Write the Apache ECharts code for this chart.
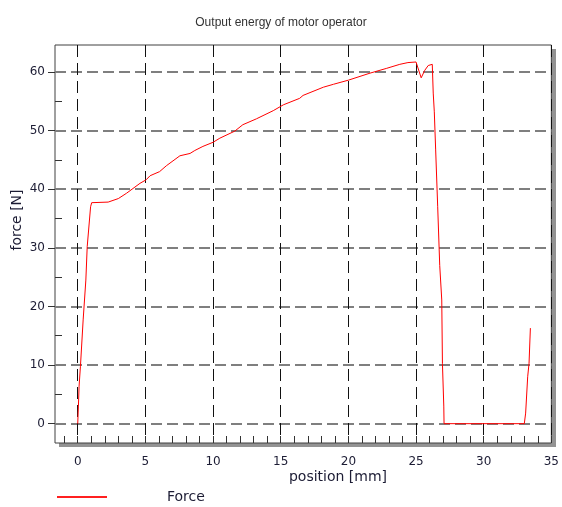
<!DOCTYPE html>
<html>
<head>
<meta charset="utf-8">
<script src="https://cdn.jsdelivr.net/npm/echarts@6/dist/echarts.min.js"></script>
<style>
  html, body { margin: 0; padding: 0; background: #fff; }
  #chart { width: 562px; height: 507px; }
</style>
</head>
<body>
<div id="chart"></div>
<script>
// force vs. position
var positionMm = [0, 0.05, 0.1, 0.2, 0.4, 0.6, 0.7, 0.95, 1.03, 2.25, 3.0, 3.6, 4.6, 5.05, 5.35,
  6.05, 6.55, 7.55, 8.3, 8.65, 9.25, 10.0, 10.5, 11.6, 12.2, 13.2, 14.45, 15.2, 16.4, 16.65,
  18.15, 18.9, 20.0, 21.6, 22.8, 23.8, 24.4, 25.0, 25.38, 25.65, 25.9, 26.2, 26.27, 26.35,
  26.45, 26.6, 26.75, 26.9, 26.95, 27.05, 27.07, 33.0, 33.1, 33.25, 33.35, 33.45];
var forceN = [0, 3.0, 6.4, 9.8, 17.7, 24.5, 30.2, 37.0, 37.7, 37.8, 38.4, 39.3, 41.0, 41.6, 42.3,
  43.0, 44.0, 45.7, 46.1, 46.6, 47.3, 48.0, 48.7, 49.9, 51.0, 52.0, 53.4, 54.4, 55.5, 56.0,
  57.4, 57.9, 58.6, 59.8, 60.6, 61.3, 61.6, 61.7, 59.0, 60.3, 61.1, 61.3, 56.4, 53.2,
  46.7, 37.0, 27.0, 21.1, 10.3, 3.0, 0, 0, 1.8, 8.0, 10.3, 16.3];

var xLabelValues = [0, 5, 10, 15, 20, 25, 30, 35];
var xMinorValues = [-1, 0, 1, 2, 3, 4, 5, 6, 7, 8, 9, 10, 11, 12, 13, 14, 15, 16, 17, 18, 19, 20,
  21, 22, 23, 24, 25, 26, 27, 28, 29, 30, 31, 32, 33, 34, 35];
var yLabelValues = [0, 10, 20, 30, 40, 50, 60];
var yMinorValues = [5, 15, 25, 35, 45, 55];

var X_MIN = -1.68, X_MAX = 35, Y_MIN = -3.3, Y_MAX = 64.6;
var TXT = "#1c1c34";
var FONT = "DejaVu Sans";
var W = 562, H = 507;
var G = { left: 55, right: 10, top: 45, bottom: 64 };

var points = positionMm.map(function (x, i) { return [x, forceN[i]]; });

var chart = echarts.init(document.getElementById("chart"), null, { renderer: "canvas" });
chart.setOption({
  animation: false,
  backgroundColor: "#fff",
  title: {
    text: "Output energy of motor operator",
    left: "center", top: 12,
    textStyle: { fontSize: 12, fontWeight: "normal", fontFamily: "Liberation Sans", color: "#333" }
  },
  legend: {
    left: 52, top: 485,
    itemWidth: 50, itemHeight: 2,
    data: [{ name: "Force", icon: "rect" }],
    textStyle: { fontSize: 14, fontFamily: FONT, color: TXT, padding: [0, 0, 0, 55] }
  },
  grid: {
    left: G.left, right: G.right, top: G.top, bottom: G.bottom,
    show: true, backgroundColor: "#fff",
    borderColor: "#404040", borderWidth: 1
  },
  xAxis: [
    {
      type: "value", min: X_MIN, max: X_MAX,
      axisLine: { show: false, onZero: false },
      axisTick: { show: false, customValues: xLabelValues },
      axisLabel: { customValues: xLabelValues, fontSize: 12, fontFamily: FONT, color: TXT, margin: 13 },
      splitLine: { show: true, lineStyle: { color: "#111", width: 1, type: [12, 6] } }
    },
    {
      type: "value", min: X_MIN, max: X_MAX, position: "bottom",
      axisLine: { show: false, onZero: false },
      axisTick: { show: true, inside: true, length: 7, customValues: xMinorValues, lineStyle: { color: "#333" } },
      axisLabel: { show: false },
      splitLine: { show: false }
    }
  ],
  yAxis: [
    {
      type: "value", min: Y_MIN, max: Y_MAX,
      axisLine: { show: false, onZero: false },
      axisTick: { show: true, inside: false, length: 7, customValues: yLabelValues, lineStyle: { color: "#333" } },
      axisLabel: { customValues: yLabelValues, fontSize: 12, fontFamily: FONT, color: TXT, margin: 10 },
      splitLine: { show: true, lineStyle: { color: "#7f7f7f", width: 2, type: [11, 5] } }
    },
    {
      type: "value", min: Y_MIN, max: Y_MAX, position: "left", offset: 0,
      axisLine: { show: false, onZero: false },
      axisTick: { show: true, inside: true, length: 7, customValues: yMinorValues, lineStyle: { color: "#333" } },
      axisLabel: { show: false },
      splitLine: { show: false }
    }
  ],
  graphic: [
    {
      // drop shadow on the right and bottom of the plot box
      type: "rect", z: -10, silent: true,
      shape: { x: G.left + 4, y: G.top + 4, width: W - G.left - G.right, height: H - G.top - G.bottom },
      style: { fill: "#939393" }
    },
    {
      type: "text", x: 17, y: 220, rotation: Math.PI / 2,
      style: { text: "force [N]", fontSize: 14, fontFamily: FONT, fill: TXT, align: "center", verticalAlign: "middle" }
    },
    {
      type: "text", x: 338, y: 477,
      style: { text: "position [mm]", fontSize: 14, fontFamily: FONT, fill: TXT, align: "center", verticalAlign: "middle" }
    }
  ],
  series: [
    {
      name: "Force", type: "line", xAxisIndex: 0, yAxisIndex: 0,
      data: points, symbol: "none", showSymbol: false,
      lineStyle: { color: "#ff0000", width: 1 },
      itemStyle: { color: "#ff2020" }
    }
  ]
});
</script>
</body>
</html>
